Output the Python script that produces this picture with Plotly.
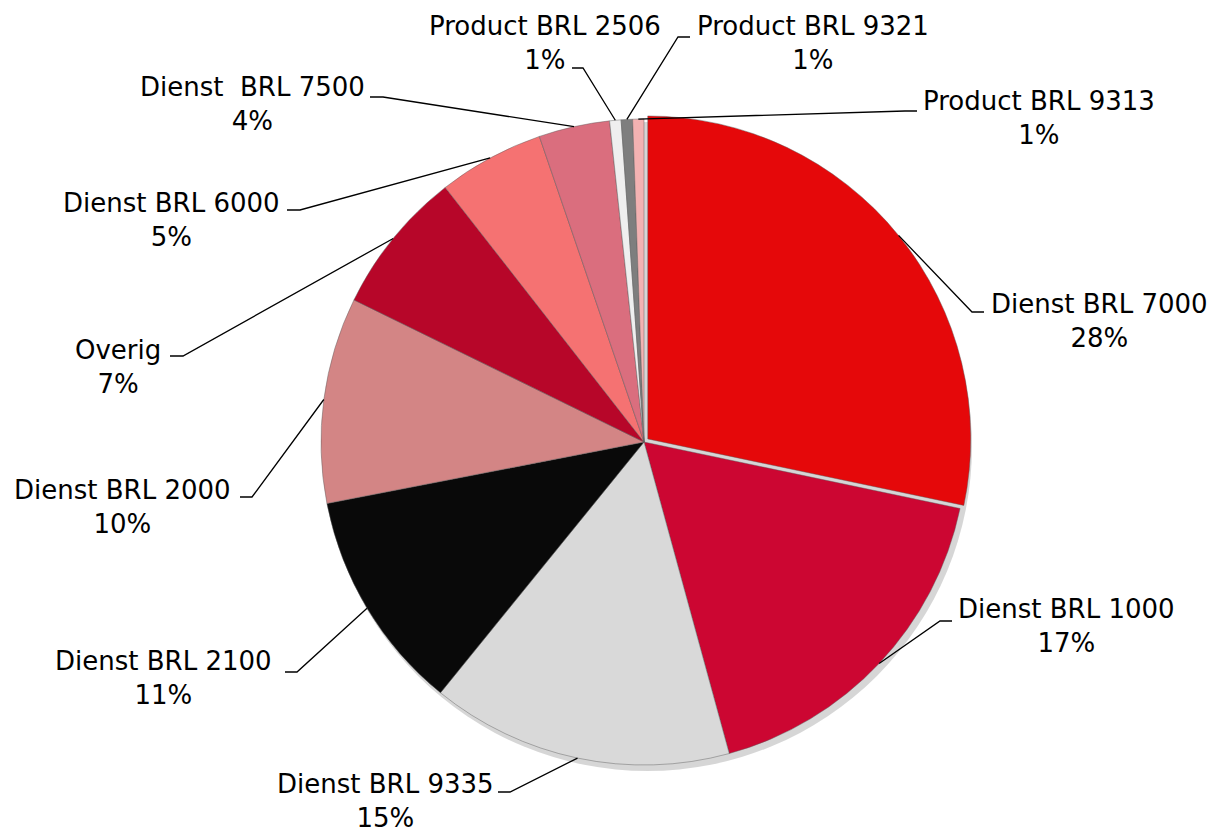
import math
import plotly.graph_objects as go

W, H = 1214, 832

# ---- data ----
categories = ["Dienst BRL 7000", "Dienst BRL 1000", "Dienst BRL 9335", "Dienst BRL 2100",
              "Dienst BRL 2000", "Overig", "Dienst BRL 6000", "Dienst  BRL 7500",
              "Product BRL 2506", "Product BRL 9321", "Product BRL 9313"]
values = [28.3, 17.45, 15.1, 11.1, 10.3, 7.2, 5.3, 3.55, 0.57, 0.57, 0.56]
colors = ["#E5080A", "#CC0632", "#D9D9D9", "#090909", "#D38585", "#B70629",
          "#F57272", "#DA6E7E", "#EFEFEF", "#7E7E7E", "#F3B2B2"]
pulls = [0.015, 0, 0, 0, 0, 0, 0, 0, 0, 0, 0]

# ---- layout (pixel positions of label blocks and leader-line elbows) ----
label_centers = [(1099, 321), (1066, 626), (385, 801), (163, 678), (122, 507), (118, 367),
                 (171, 220), (252, 104), (545, 43), (813, 43), (1039, 118)]
elbows = [(972, 312), (940, 621), (510, 792), (297, 672), (252, 497), (183, 356),
          (300, 210), (383, 97), (583, 68), (678, 37), (905, 111)]
elbow_ends = [984, 952, 498, 285, 240, 170, 287, 370, 572, 690, 917]

CX, CY, R = 644, 442, 323
maxpull = max(pulls)
side = 2 * R * (1 + maxpull)
dom_x = [(CX - side / 2) / W, (CX + side / 2) / W]
dom_y = [(H - CY - side / 2) / H, (H - CY + side / 2) / H]

def px(x):
    return x / W

def py(y):
    return 1 - y / H

fig = go.Figure(go.Pie(
    labels=categories, values=values, sort=False, direction="clockwise", rotation=0,
    marker=dict(colors=colors, line=dict(color="rgba(90,90,90,0.55)", width=0.8)),
    pull=pulls, textinfo="none", hoverinfo="label+percent",
    domain=dict(x=dom_x, y=dom_y), showlegend=False,
))

total = sum(values)
cum = 0.0
shapes = [dict(
    type="circle", xref="paper", yref="paper", layer="below",
    x0=px(CX - R + 2), x1=px(CX + R + 5), y0=py(CY - R + 3), y1=py(CY + R + 6),
    line=dict(width=0), fillcolor="rgba(0,0,0,0.16)",
)]
annotations = []
for i, (cat, v) in enumerate(zip(categories, values)):
    mid = (cum + v / 2) / total * 2 * math.pi
    cum += v
    off = pulls[i] * R
    sx = CX + (R + off) * math.sin(mid)
    sy = CY - (R + off) * math.cos(mid)
    ex, ey = elbows[i]
    endx = elbow_ends[i]
    shapes.append(dict(
        type="path", xref="paper", yref="paper",
        path=f"M {px(sx)},{py(sy)} L {px(ex)},{py(ey)} L {px(endx)},{py(ey)}",
        line=dict(color="black", width=1.3),
    ))
    pct = round(v / total * 100)
    name = cat.replace("  ", " \u00a0")
    lx, ly = label_centers[i]
    annotations.append(dict(
        x=px(lx), y=py(ly), xref="paper", yref="paper",
        text=f"{name}<br>{pct}%", showarrow=False, align="center",
        xanchor="center", yanchor="middle",
        font=dict(family="DejaVu Sans, Verdana, sans-serif", size=26, color="black"),
    ))

fig.update_layout(
    width=W, height=H, margin=dict(l=0, r=0, t=0, b=0),
    paper_bgcolor="white", plot_bgcolor="white",
    shapes=shapes, annotations=annotations,
)

fig.write_html("out.html")
